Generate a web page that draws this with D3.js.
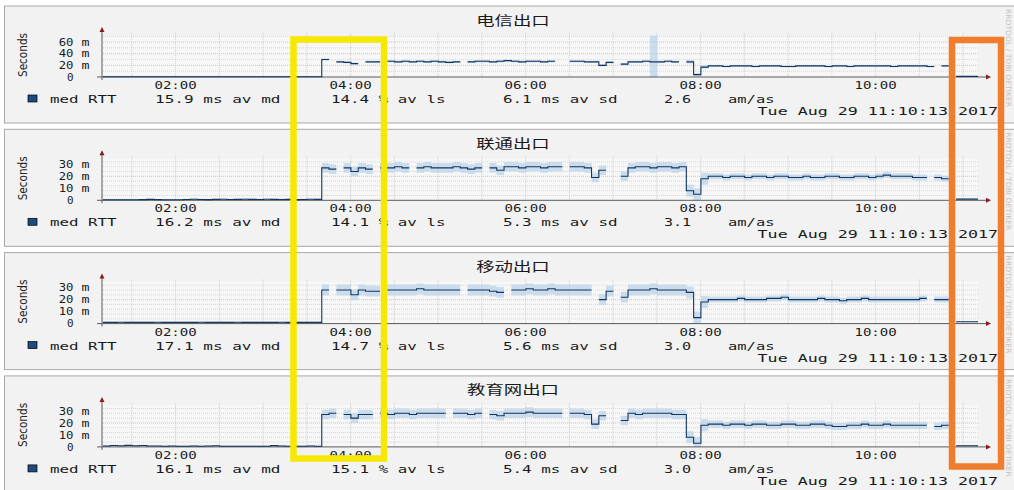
<!DOCTYPE html>
<html>
<head>
<meta charset="utf-8">
<script src="https://cdn.jsdelivr.net/npm/d3@7/dist/d3.min.js"></script>
<style>
body { margin: 0; background: #fff; }
text { font-family: "DejaVu Sans Mono", monospace; fill: #1a1a1a; white-space: pre; }
</style>
</head>
<body>
<div id="chart-area"></div>
<script>
const svgWidth = 1014,
      svgHeight = 490;

// ---- data (ms, one value per 5 min from 01:10) ----
const startTime = new Date(2017, 7, 29, 1, 10, 13);
const endTime = new Date(2017, 7, 29, 11, 10, 13);
const stepMinutes = 5;

const titles = ["电信出口", "联通出口", "移动出口", "教育网出口"];
const yMax = [72, 35, 35, 35];
const yTicks = [[0, 20, 40, 60], [0, 10, 20, 30], [0, 10, 20, 30], [0, 10, 20, 30]];
const gridStep = [10, 4, 4, 4];
const xTickLabels = ["02:00", "04:00", "06:00", "08:00", "10:00"];
const medAvg = ["15.9", "16.2", "17.1", "16.1"];
const lossAvg = ["14.4", "14.1", "14.7", "15.1"];
const sdAvg = ["6.1", "5.3", "5.6", "5.4"];
const amAs = ["2.6", "3.1", "3.0", "3.0"];
const stampText = "Tue Aug 29 11:10:13 2017";

const medTelecom = [
  0.4,0.4,0.5,0.4,0.4,0.4,0.5,0.4,0.4,0.4, 0.4,0.5,0.4,0.4,0.4,0.4,0.4,0.5,0.4,0.4,
  0.4,0.4,0.5,0.4,0.4,0.4,0.4,0.5,0.4,0.4, 30,null,26,25,23,null,26,26,null,27,
  26,27,26,27,26,27,26,25,26,null, 26,27,27,26,27,28,27,26,27,27,
  26,27,null,null,27,27,26,26,20,25, null,22,26,26,27,26,26,27,26,null,
  26,4,17,19,19,18,19,19,19,18, 19,19,19,18,18,19,19,19,19,18,
  19,19,18,19,19,19,19,19,18,19, 19,19,19,18,null,19,null,1,1,1
];
const smokeTelecom = [
  0.3,0.3,0.3,0.3,0.3,0.3,0.3,0.3,0.3,0.3, 0.3,0.3,0.3,0.3,0.3,0.3,0.3,0.3,0.3,0.3,
  0.3,0.3,0.3,0.3,0.3,0.3,0.3,0.3,0.3,0.3, 2,2,2,2,2,2,2,2,2,2,
  2,2,2,2,2,2,2,2,2,2, 2,2,2,2,2,2,2,2,2,2,
  2,2,2,2,2,2,2,2,2,2, 2,2,2,2,2,45,2,2,2,2,
  3,3,3,1.5,1.5,1.5,1.5,1.5,1.5,1.5, 1.5,1.5,1.5,1.5,1.5,1.5,1.5,1.5,1.5,1.5,
  1.5,1.5,1.5,1.5,1.5,1.5,1.5,1.5,1.5,1.5, 1.5,1.5,1.5,1.5,1.5,1.5,1.5,0.5,0.5,0.5
];

const medUnicom = [
  0.5,0.5,0.5,0.5,0.5,0.6,0.8,0.6,0.5,0.5, 0.5,0.7,0.9,0.7,0.6,0.8,0.9,0.7,0.8,0.9,
  0.8,0.7,0.9,0.8,0.7,0.8,0.6,0.7,0.9,0.8, 27,26,null,27,24,27,26,null,27,27,
  28,27,null,27,28,27,27,27,28,27, 26,27,null,27,25,28,28,27,28,28,
  27,28,28,null,28,28,27,19,25,null, null,20,27,28,28,27,28,28,27,28,
  8,5,18,20,20,19,20,20,19,20, 20,19,20,20,19,19,20,19,19,20,
  20,19,19,20,20,19,20,21,20,20, 20,19,19,null,19,18,null,1,1,1
];
const smokeUnicom = [
  0.5,0.5,0.5,0.5,0.5,0.5,0.5,0.5,0.5,0.5, 0.5,0.5,0.5,0.5,0.5,0.5,0.5,0.5,0.5,0.5,
  0.5,0.5,0.5,0.5,0.5,0.5,0.5,0.5,0.5,0.5, 4,4,4,4,4,4,4,4,4,4,
  4,4,4,4,4,4,4,4,4,4, 4,4,4,4,4,4,4,4,4,4,
  4,4,4,4,4,4,4,4,4,4, 4,4,4,4,4,4,4,4,4,4,
  5,5,5,2.5,2.5,2.5,2.5,2.5,2.5,2.5, 2.5,2.5,2.5,2.5,2.5,2.5,2.5,2.5,2.5,2.5,
  2.5,2.5,2.5,2.5,2.5,2.5,2.5,2.5,2.5,2.5, 2.5,2.5,2.5,2.5,2.5,2.5,2.5,0.5,0.5,0.5
];

const medMobile = [
  1.0,1.0,1.1,1.0,1.0,1.0,1.0,1.1,1.0,1.0, 1.0,1.0,1.0,1.1,1.0,1.0,1.0,1.0,1.1,1.0,
  1.0,1.0,1.0,1.0,1.1,1.0,1.0,1.0,1.0,1.0, 28,null,28,28,24,28,27,27,null,28,
  28,28,28,29,28,28,28,28,28,null, 28,28,28,27,26,null,28,28,29,28,
  28,29,28,28,28,28,28,null,20,27, null,22,28,28,28,29,28,28,28,28,
  26,5,18,20,20,20,20,21,20,20, 20,21,21,22,20,20,20,20,21,20,
  20,19,20,20,21,20,20,20,20,20, 20,20,21,null,20,20,null,1.5,1.5,1.5
];
const smokeMobile = [
  0.5,0.5,0.5,0.5,0.5,0.5,0.5,0.5,0.5,0.5, 0.5,0.5,0.5,0.5,0.5,0.5,0.5,0.5,0.5,0.5,
  0.5,0.5,0.5,0.5,0.5,0.5,0.5,0.5,0.5,0.5, 4.5,4.5,4.5,4.5,4.5,4.5,4.5,4.5,4.5,4.5,
  4.5,4.5,4.5,4.5,4.5,4.5,4.5,4.5,4.5,4.5, 4.5,4.5,4.5,4.5,4.5,4.5,4.5,4.5,4.5,4.5,
  4.5,4.5,4.5,4.5,4.5,4.5,4.5,4.5,4.5,4.5, 4.5,4.5,4.5,4.5,4.5,4.5,4.5,4.5,4.5,4.5,
  5,5,5,2.5,2.5,2.5,2.5,2.5,2.5,2.5, 2.5,2.5,2.5,2.5,2.5,2.5,2.5,2.5,2.5,2.5,
  2.5,2.5,2.5,2.5,2.5,2.5,2.5,2.5,2.5,2.5, 2.5,2.5,2.5,2.5,2.5,2.5,2.5,0.5,0.5,0.5
];

const medEdu = [
  0.8,1.2,0.9,1.3,1.0,1.2,0.8,0.7,0.6,0.7, 0.6,0.6,0.7,0.6,0.8,1.0,0.6,0.6,0.6,0.6,
  0.6,0.6,0.6,1.1,0.7,0.6,0.6,0.6,0.8,0.6, 27,28,null,27,24,27,27,null,28,27,
  28,28,27,28,28,28,28,null,28,28, 27,28,null,27,26,28,28,28,29,28,
  28,28,28,null,28,28,27,19,26,null, null,22,28,27,28,28,28,28,27,27,
  8,3,18,19,19,18,19,19,18,19, 19,18,18,19,19,18,18,19,19,18,
  17,17,18,18,19,18,18,19,18,18, 18,18,18,null,17,18,null,1,1,1
];
const smokeEdu = [
  0.5,0.5,0.5,0.5,0.5,0.5,0.5,0.5,0.5,0.5, 0.5,0.5,0.5,0.5,0.5,0.5,0.5,0.5,0.5,0.5,
  0.5,0.5,0.5,0.5,0.5,0.5,0.5,0.5,0.5,0.5, 4,4,4,4,4,4,4,4,4,4,
  4,4,4,4,4,4,4,4,4,4, 4,4,4,4,4,4,4,4,4,4,
  4,4,4,4,4,4,4,4,4,4, 4,4,4,4,4,4,4,4,4,4,
  5,5,5,3,3,3,3,3,3,3, 3,3,3,3,3,3,3,3,3,3,
  3,3,3,3,3,3,3,3,3,3, 3,3,3,3,3,3,3,0.5,0.5,0.5
];

const medSeries = [medTelecom, medUnicom, medMobile, medEdu];
const smokeSeries = [smokeTelecom, smokeUnicom, smokeMobile, smokeEdu];

// ---- layout ----
const panelStride = 123.3;
const plotLeft = 103, plotRight = 978;

const svg = d3.select("#chart-area")
  .append("svg")
  .attr("width", svgWidth)
  .attr("height", svgHeight);

const x = d3.scaleTime().domain([startTime, endTime]).range([plotLeft, plotRight]);
const parseLabel = d3.timeParse("%Y-%m-%d %H:%M");

// text whose glyphs are stretched to a fixed pitch, like the widened original
function monoText(g, str, px, py, pitch, size, anchor) {
  const len = str.length * pitch - pitch * 0.2;
  let x0 = px;
  if (anchor === "middle") x0 = px - len / 2;
  if (anchor === "end") x0 = px - len;
  return g.append("text")
    .attr("x", x0)
    .attr("y", py)
    .attr("font-size", size)
    .attr("textLength", len)
    .attr("lengthAdjust", "spacingAndGlyphs")
    .text(str);
}

function stepPoints(med, smoke) {
  const pts = [];
  med.forEach((v, i) => {
    const t0 = d3.timeMinute.offset(startTime, i * stepMinutes);
    const t1 = d3.timeMinute.offset(startTime, (i + 1) * stepMinutes);
    pts.push({t: t0, v: v, s: smoke[i]}, {t: t1, v: v, s: smoke[i]});
  });
  return pts;
}

titles.forEach((title, k) => {
  const top = 5 + k * panelStride;
  const zeroY = top + 72;
  const g = svg.append("g");

  g.append("rect")
    .attr("x", 4.5).attr("y", top + 1)
    .attr("width", 1012).attr("height", 117)
    .attr("fill", "#f2f2f2")
    .attr("stroke", "#a9a9a9");

  g.append("rect")
    .attr("x", plotLeft).attr("y", top + 30)
    .attr("width", plotRight - plotLeft).attr("height", 42)
    .attr("fill", "#f7f7f7");

  const y = d3.scaleLinear().domain([0, yMax[k]]).range([zeroY, top + 30]).clamp(true);

  // horizontal grid
  g.selectAll(".hgrid")
    .data(d3.range(gridStep[k], yMax[k], gridStep[k]))
    .enter().append("line")
    .attr("x1", plotLeft).attr("x2", plotRight)
    .attr("y1", d => y(d)).attr("y2", d => y(d))
    .attr("stroke", d => yTicks[k].includes(d) ? "#b8b8b8" : "#cfcfcf")
    .attr("stroke-width", 0.8)
    .attr("stroke-dasharray", "1,1");

  // vertical grid every 30 min
  g.selectAll(".vgrid")
    .data(x.ticks(d3.timeMinute.every(30)))
    .enter().append("line")
    .attr("x1", d => x(d)).attr("x2", d => x(d))
    .attr("y1", top + 28).attr("y2", zeroY)
    .attr("stroke", "#c4c4c4")
    .attr("stroke-width", 0.8)
    .attr("stroke-dasharray", "1,1");

  const pts = stepPoints(medSeries[k], smokeSeries[k]);

  const smoke = d3.area()
    .defined(d => d.v !== null)
    .x(d => x(d.t))
    .y0(d => y(Math.max(0, d.v - d.s)))
    .y1(d => y(d.v + d.s));

  g.append("path")
    .attr("d", smoke(pts))
    .attr("fill", "#bcd3ea")
    .attr("opacity", 0.75);

  const line = d3.line()
    .defined(d => d.v !== null)
    .x(d => x(d.t))
    .y(d => y(d.v));

  // axes
  g.append("line")
    .attr("x1", 97).attr("x2", 986)
    .attr("y1", zeroY).attr("y2", zeroY)
    .attr("stroke", "#5a5a5a");
  g.append("line")
    .attr("x1", plotLeft - 1).attr("x2", plotLeft - 1)
    .attr("y1", zeroY + 3).attr("y2", top + 26)
    .attr("stroke", "#5a5a5a");
  g.append("path")
    .attr("d", `M986,${zeroY - 2.5}L991,${zeroY}L986,${zeroY + 2.5}Z`)
    .attr("fill", "#8a1c1c");
  g.append("path")
    .attr("d", `M${plotLeft - 3.5},${top + 27}L${plotLeft - 1},${top + 22}L${plotLeft + 1.5},${top + 27}Z`)
    .attr("fill", "#8a1c1c");

  g.append("path")
    .attr("d", line(pts))
    .attr("fill", "none")
    .attr("stroke", "#12365f")
    .attr("stroke-width", 1.1);

  // y tick labels
  yTicks[k].forEach(v => {
    monoText(g, String(v), 73.5, y(v) + 3.6, 8.2, 10, "end");
    if (v !== 0) monoText(g, "m", 81.5, y(v) + 3.6, 10, 10, "start");
  });

  // x tick labels
  xTickLabels.forEach(lbl => {
    const t = parseLabel("2017-08-29 " + lbl);
    monoText(g, lbl, x(t), top + 84, 8.8, 10, "middle");
  });

  // title
  g.append("text")
    .attr("x", 513 - title.length * 9.2)
    .attr("y", top + 19.5)
    .attr("font-size", 13)
    .attr("textLength", title.length * 18.4)
    .attr("lengthAdjust", "spacingAndGlyphs")
    .style("font-family", "'Noto Sans CJK SC', sans-serif")
    .text(title);

  // y axis label
  g.append("text")
    .attr("transform", `translate(27, ${top + 50}) scale(1.25,1) rotate(-90)`)
    .attr("text-anchor", "middle")
    .attr("font-size", 10.5)
    .style("font-family", "'DejaVu Sans', sans-serif")
    .style("fill", "#222")
    .text("Seconds");

  // side watermark
  g.append("text")
    .attr("transform", `translate(1006, ${top + 4}) rotate(90)`)
    .attr("font-size", 7)
    .attr("textLength", 98)
    .attr("lengthAdjust", "spacingAndGlyphs")
    .style("font-family", "'DejaVu Sans', sans-serif")
    .style("fill", "#c2c2c2")
    .text("RRDTOOL / TOBI OETIKER");

  // legend
  g.append("rect")
    .attr("x", 28).attr("y", top + 90)
    .attr("width", 9).attr("height", 7)
    .attr("fill", "#1d4b7e")
    .attr("stroke", "#000")
    .attr("stroke-width", 0.7);
  monoText(g, "med RTT", 50, top + 98, 9.8, 10.5, "start");
  monoText(g, medAvg[k] + " ms av md", 155, top + 98, 9.8, 10.5, "start");
  monoText(g, lossAvg[k] + " % av ls", 331, top + 98, 9.7, 10.5, "start");
  monoText(g, sdAvg[k] + " ms av sd", 503, top + 98, 9.7, 10.5, "start");
  monoText(g, amAs[k], 664, top + 98, 9.7, 10.5, "start");
  monoText(g, "am/as", 728, top + 98, 9.7, 10.5, "start");
  monoText(g, stampText, 998, top + 110, 10.1, 10.5, "end");
});

// highlight boxes drawn over the panels
svg.append("rect")
  .attr("x", 293.5).attr("y", 39.5)
  .attr("width", 384 - 293.5).attr("height", 458.5 - 39.5)
  .attr("fill", "none")
  .attr("stroke", "#f6e800")
  .attr("stroke-width", 6.5);

svg.append("rect")
  .attr("x", 952).attr("y", 40)
  .attr("width", 1001 - 952).attr("height", 466.5 - 40)
  .attr("fill", "none")
  .attr("stroke", "#ef7d2c")
  .attr("stroke-width", 6.5);
</script>
</body>
</html>
